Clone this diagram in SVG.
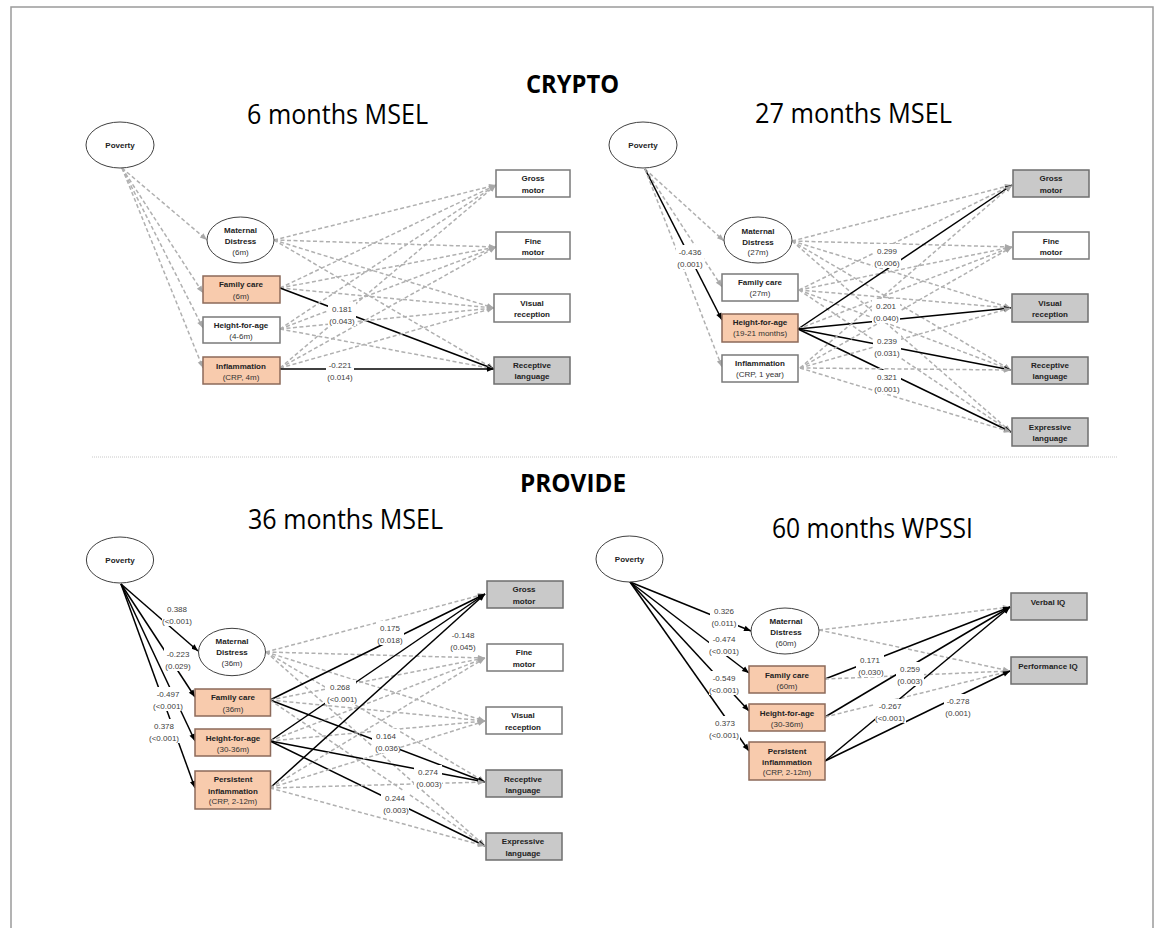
<svg xmlns="http://www.w3.org/2000/svg" width="1155" height="928" viewBox="0 0 1155 928">
<defs>
<marker id="ab" viewBox="0 0 10 10" refX="10" refY="5" markerWidth="8" markerHeight="7" orient="auto" markerUnits="userSpaceOnUse"><path d="M0,1 L10,5 L0,9 z" fill="#000"/></marker>
<marker id="ag" viewBox="0 0 10 10" refX="10" refY="5" markerWidth="8" markerHeight="7" orient="auto" markerUnits="userSpaceOnUse"><path d="M0,1 L10,5 L0,9 z" fill="#a8a8a8"/></marker>
<style>
.d{stroke:#b0b0b0;stroke-width:1.5;stroke-dasharray:4 2.5;fill:none;marker-end:url(#ag)}
.s{stroke:#000;stroke-width:1.5;fill:none;marker-end:url(#ab)}
.el{fill:#fff;stroke:#404040;stroke-width:1}
.bw{fill:#fff;stroke:#7a7a7a;stroke-width:1.5}
.bo{fill:#f8cbad;stroke:#8c6a5a;stroke-width:1.5}
.bg{fill:#c9c9c9;stroke:#6e6e6e;stroke-width:1.5}
text{font-family:"Liberation Sans",Arial,sans-serif;text-anchor:middle}
.nb{font-size:8px;font-weight:bold;fill:#222}
.nr{font-size:8px;fill:#333}
.lb{font-size:8px;fill:#404040}
.lbg{fill:#fff}
.t1{font-family:"Open Sans","Liberation Sans",sans-serif;font-size:25px;font-weight:bold;fill:#000}
.t2{font-family:"Open Sans","Liberation Sans",sans-serif;font-size:27px;fill:#000}
</style>
</defs>
<rect x="11" y="7" width="1142" height="940" fill="none" stroke="#9a9a9a" stroke-width="1.5"/>
<line x1="92" y1="457" x2="1118" y2="457" stroke="#c8c8c8" stroke-width="1" stroke-dasharray="1 1"/>
<g id="titles">
<text class="t1" x="572.5" y="93" textLength="93" lengthAdjust="spacingAndGlyphs">CRYPTO</text>
<text class="t2" x="337.5" y="124" textLength="181" lengthAdjust="spacingAndGlyphs">6 months MSEL</text>
<text class="t2" x="853.5" y="123" textLength="197" lengthAdjust="spacingAndGlyphs">27 months MSEL</text>
<text class="t1" x="573" y="492" textLength="106" lengthAdjust="spacingAndGlyphs">PROVIDE</text>
<text class="t2" x="345.5" y="529" textLength="195" lengthAdjust="spacingAndGlyphs">36 months MSEL</text>
<text class="t2" x="872.5" y="538" textLength="201" lengthAdjust="spacingAndGlyphs">60 months WPSSI</text>
</g>
<g id="connectors">
<!-- panel 1 -->
<line class="d" x1="122" y1="168" x2="207" y2="240"/>
<line class="d" x1="122" y1="168" x2="203" y2="293"/>
<line class="d" x1="122" y1="168" x2="203" y2="328"/>
<line class="d" x1="122" y1="168" x2="203" y2="368"/>
<line class="d" x1="274" y1="240" x2="496" y2="185"/>
<line class="d" x1="274" y1="240" x2="496" y2="247"/>
<line class="d" x1="274" y1="240" x2="494" y2="308"/>
<line class="d" x1="274" y1="240" x2="494" y2="369"/>
<line class="d" x1="280" y1="288" x2="496" y2="185"/>
<line class="d" x1="280" y1="288" x2="496" y2="247"/>
<line class="d" x1="280" y1="288" x2="494" y2="308"/>
<line class="s" x1="280" y1="288" x2="494" y2="369"/>
<line class="d" x1="280" y1="329" x2="496" y2="185"/>
<line class="d" x1="280" y1="329" x2="496" y2="247"/>
<line class="d" x1="280" y1="329" x2="494" y2="308"/>
<line class="d" x1="280" y1="329" x2="494" y2="369"/>
<line class="d" x1="280" y1="368" x2="496" y2="185"/>
<line class="d" x1="280" y1="368" x2="496" y2="247"/>
<line class="d" x1="280" y1="368" x2="494" y2="308"/>
<line class="s" x1="280" y1="369" x2="494" y2="369"/>
<!-- panel 2 -->
<line class="d" x1="645" y1="169" x2="724" y2="241"/>
<line class="d" x1="645" y1="169" x2="722" y2="287"/>
<line class="s" x1="645" y1="169" x2="722" y2="320"/>
<line class="d" x1="645" y1="169" x2="722" y2="367"/>
<line class="d" x1="792" y1="241" x2="1012" y2="185"/>
<line class="d" x1="792" y1="241" x2="1012" y2="247"/>
<line class="d" x1="792" y1="241" x2="1011" y2="308"/>
<line class="d" x1="792" y1="241" x2="1011" y2="370"/>
<line class="d" x1="792" y1="241" x2="1011" y2="432"/>
<line class="d" x1="799" y1="290" x2="1012" y2="185"/>
<line class="d" x1="799" y1="290" x2="1012" y2="247"/>
<line class="d" x1="799" y1="290" x2="1011" y2="308"/>
<line class="d" x1="799" y1="290" x2="1011" y2="370"/>
<line class="d" x1="799" y1="290" x2="1011" y2="432"/>
<line class="s" x1="798" y1="329" x2="1012" y2="185"/>
<line class="d" x1="798" y1="329" x2="1012" y2="247"/>
<line class="s" x1="798" y1="329" x2="1011" y2="308"/>
<line class="s" x1="798" y1="329" x2="1011" y2="370"/>
<line class="s" x1="798" y1="329" x2="1011" y2="432"/>
<line class="d" x1="800" y1="368" x2="1012" y2="185"/>
<line class="d" x1="800" y1="368" x2="1012" y2="247"/>
<line class="d" x1="800" y1="368" x2="1011" y2="308"/>
<line class="d" x1="800" y1="368" x2="1011" y2="370"/>
<line class="d" x1="800" y1="368" x2="1011" y2="432"/>
<!-- panel 3 -->
<line class="s" x1="121" y1="584" x2="198" y2="651"/>
<line class="s" x1="121" y1="584" x2="195" y2="697"/>
<line class="s" x1="121" y1="584" x2="195" y2="741"/>
<line class="s" x1="121" y1="584" x2="195" y2="788"/>
<line class="d" x1="266" y1="652" x2="485" y2="594"/>
<line class="d" x1="266" y1="652" x2="485" y2="658"/>
<line class="d" x1="266" y1="652" x2="485" y2="721"/>
<line class="d" x1="266" y1="652" x2="485" y2="782"/>
<line class="d" x1="266" y1="652" x2="485" y2="846"/>
<line class="s" x1="270" y1="700" x2="485" y2="594"/>
<line class="d" x1="270" y1="700" x2="485" y2="658"/>
<line class="d" x1="270" y1="700" x2="485" y2="721"/>
<line class="s" x1="270" y1="700" x2="485" y2="782"/>
<line class="d" x1="270" y1="700" x2="485" y2="846"/>
<line class="s" x1="270" y1="741" x2="485" y2="594"/>
<line class="d" x1="270" y1="741" x2="485" y2="658"/>
<line class="d" x1="270" y1="741" x2="485" y2="721"/>
<line class="s" x1="270" y1="741" x2="485" y2="782"/>
<line class="s" x1="270" y1="741" x2="485" y2="846"/>
<line class="s" x1="270" y1="788" x2="485" y2="594"/>
<line class="d" x1="270" y1="788" x2="485" y2="658"/>
<line class="d" x1="270" y1="788" x2="485" y2="721"/>
<line class="d" x1="270" y1="788" x2="485" y2="782"/>
<line class="d" x1="270" y1="788" x2="485" y2="846"/>
<!-- panel 4 -->
<line class="s" x1="630" y1="582" x2="751" y2="631"/>
<line class="s" x1="630" y1="582" x2="749" y2="673"/>
<line class="s" x1="630" y1="582" x2="749" y2="711"/>
<line class="s" x1="630" y1="582" x2="749" y2="751"/>
<line class="d" x1="819" y1="630" x2="1010" y2="607"/>
<line class="d" x1="819" y1="630" x2="1010" y2="671"/>
<line class="s" x1="825" y1="679" x2="1010" y2="607"/>
<line class="d" x1="825" y1="679" x2="1010" y2="671"/>
<line class="s" x1="825" y1="717" x2="1010" y2="607"/>
<line class="d" x1="825" y1="717" x2="1010" y2="671"/>
<line class="s" x1="825" y1="761" x2="1010" y2="607"/>
<line class="s" x1="825" y1="761" x2="1010" y2="671"/>
</g>
<g id="edge-labels">
<rect class="lbg" x="328" y="302" width="28" height="24"/><text class="lb" x="342" y="312">0.181<tspan x="342" dy="11.5">(0.043)</tspan></text>
<rect class="lbg" x="326" y="358" width="28" height="24"/><text class="lb" x="340" y="368">-0.221<tspan x="340" dy="11.5">(0.014)</tspan></text>
<rect class="lbg" x="676" y="245" width="28" height="24"/><text class="lb" x="690" y="255">-0.436<tspan x="690" dy="11.5">(0.001)</tspan></text>
<rect class="lbg" x="873" y="244" width="28" height="24"/><text class="lb" x="887" y="254">0.299<tspan x="887" dy="11.5">(0.006)</tspan></text>
<rect class="lbg" x="872" y="299" width="28" height="24"/><text class="lb" x="886" y="309">0.201<tspan x="886" dy="11.5">(0.040)</tspan></text>
<rect class="lbg" x="873" y="334" width="28" height="24"/><text class="lb" x="887" y="344">0.239<tspan x="887" dy="11.5">(0.031)</tspan></text>
<rect class="lbg" x="873" y="370" width="28" height="24"/><text class="lb" x="887" y="380">0.321<tspan x="887" dy="11.5">(0.001)</tspan></text>
<rect class="lbg" x="162" y="602" width="31" height="24"/><text class="lb" x="177" y="612">0.388<tspan x="177" dy="11.5">(&lt;0.001)</tspan></text>
<rect class="lbg" x="164" y="647" width="28" height="24"/><text class="lb" x="178" y="657">-0.223<tspan x="178" dy="11.5">(0.029)</tspan></text>
<rect class="lbg" x="153" y="687" width="31" height="24"/><text class="lb" x="168" y="697">-0.497<tspan x="168" dy="11.5">(&lt;0.001)</tspan></text>
<rect class="lbg" x="149" y="719" width="31" height="24"/><text class="lb" x="164" y="729">0.378<tspan x="164" dy="11.5">(&lt;0.001)</tspan></text>
<rect class="lbg" x="376" y="621" width="28" height="24"/><text class="lb" x="390" y="631">0.175<tspan x="390" dy="11.5">(0.018)</tspan></text>
<rect class="lbg" x="449" y="628" width="28" height="24"/><text class="lb" x="463" y="638">-0.148<tspan x="463" dy="11.5">(0.045)</tspan></text>
<rect class="lbg" x="325" y="680" width="31" height="24"/><text class="lb" x="340" y="690">0.268<tspan x="342" dy="11.5">(&lt;0.001)</tspan></text>
<rect class="lbg" x="372" y="729" width="28" height="24"/><text class="lb" x="386" y="739">0.164<tspan x="388" dy="11.5">(0.036)</tspan></text>
<rect class="lbg" x="414" y="765" width="28" height="24"/><text class="lb" x="428" y="775">0.274<tspan x="429" dy="11.5">(0.003)</tspan></text>
<rect class="lbg" x="381" y="791" width="28" height="24"/><text class="lb" x="395" y="801">0.244<tspan x="396" dy="11.5">(0.003)</tspan></text>
<rect class="lbg" x="710" y="604" width="28" height="24"/><text class="lb" x="724" y="614">0.326<tspan x="724" dy="11.5">(0.011)</tspan></text>
<rect class="lbg" x="709" y="632" width="31" height="24"/><text class="lb" x="724" y="642">-0.474<tspan x="724" dy="11.5">(&lt;0.001)</tspan></text>
<rect class="lbg" x="709" y="671" width="31" height="24"/><text class="lb" x="724" y="681">-0.549<tspan x="724" dy="11.5">(&lt;0.001)</tspan></text>
<rect class="lbg" x="709" y="716" width="31" height="24"/><text class="lb" x="725" y="726">0.373<tspan x="724" dy="11.5">(&lt;0.001)</tspan></text>
<rect class="lbg" x="856" y="653" width="28" height="24"/><text class="lb" x="870" y="663">0.171<tspan x="871" dy="11.5">(0.030)</tspan></text>
<rect class="lbg" x="896" y="662" width="28" height="24"/><text class="lb" x="910" y="672">0.259<tspan x="910" dy="11.5">(0.003)</tspan></text>
<rect class="lbg" x="875" y="699" width="31" height="24"/><text class="lb" x="890" y="709">-0.267<tspan x="890" dy="11.5">(&lt;0.001)</tspan></text>
<rect class="lbg" x="944" y="694" width="28" height="24"/><text class="lb" x="958" y="704">-0.278<tspan x="958" dy="11.5">(0.001)</tspan></text>
</g>
<!-- panel 1 nodes -->
<g id="p1-poverty"><ellipse class="el" cx="120" cy="145" rx="34" ry="23"/><text class="nb" x="120" y="148">Poverty</text></g>
<g id="p1-maternal"><ellipse class="el" cx="240.5" cy="240" rx="33.5" ry="23"/><text class="nb" x="240.5" y="233">Maternal</text><text class="nb" x="240.5" y="244">Distress</text><text class="nr" x="240.5" y="255">(6m)</text></g>
<g id="p1-family"><rect class="bo" x="203" y="276" width="77" height="27"/><text class="nb" x="241" y="287">Family care</text><text class="nr" x="241" y="299">(6m)</text></g>
<g id="p1-height"><rect class="bw" x="203" y="317" width="77" height="26"/><text class="nb" x="241" y="328">Height-for-age</text><text class="nr" x="241" y="339">(4-6m)</text></g>
<g id="p1-inflam"><rect class="bo" x="203" y="357" width="77" height="27"/><text class="nb" x="241" y="369">Inflammation</text><text class="nr" x="241" y="380">(CRP, 4m)</text></g>
<g id="p1-gross"><rect class="bw" x="496" y="170" width="74" height="27"/><text class="nb" x="533" y="181">Gross</text><text class="nb" x="533" y="193">motor</text></g>
<g id="p1-fine"><rect class="bw" x="496" y="232" width="74" height="27"/><text class="nb" x="533" y="244">Fine</text><text class="nb" x="533" y="255">motor</text></g>
<g id="p1-visual"><rect class="bw" x="494" y="294" width="76" height="28"/><text class="nb" x="532" y="306">Visual</text><text class="nb" x="532" y="317">reception</text></g>
<g id="p1-receptive"><rect class="bg" x="494" y="357" width="76" height="27"/><text class="nb" x="532" y="368">Receptive</text><text class="nb" x="532" y="379">language</text></g>
<!-- panel 2 nodes -->
<g id="p2-poverty"><ellipse class="el" cx="643" cy="145" rx="34" ry="23"/><text class="nb" x="643" y="148">Poverty</text></g>
<g id="p2-maternal"><ellipse class="el" cx="758" cy="240" rx="34" ry="23"/><text class="nb" x="758" y="234">Maternal</text><text class="nb" x="758" y="245">Distress</text><text class="nr" x="758" y="255">(27m)</text></g>
<g id="p2-family"><rect class="bw" x="722" y="274" width="76" height="27"/><text class="nb" x="760" y="285">Family care</text><text class="nr" x="760" y="296">(27m)</text></g>
<g id="p2-height"><rect class="bo" x="722" y="314" width="76" height="28"/><text class="nb" x="760" y="325">Height-for-age</text><text class="nr" x="760" y="336">(19-21 months)</text></g>
<g id="p2-inflam"><rect class="bw" x="722" y="355" width="76" height="27"/><text class="nb" x="760" y="366">Inflammation</text><text class="nr" x="760" y="377">(CRP, 1 year)</text></g>
<g id="p2-gross"><rect class="bg" x="1013" y="170" width="76" height="27"/><text class="nb" x="1051" y="181">Gross</text><text class="nb" x="1051" y="193">motor</text></g>
<g id="p2-fine"><rect class="bw" x="1013" y="232" width="76" height="27"/><text class="nb" x="1051" y="244">Fine</text><text class="nb" x="1051" y="255">motor</text></g>
<g id="p2-visual"><rect class="bg" x="1012" y="294" width="76" height="28"/><text class="nb" x="1050" y="306">Visual</text><text class="nb" x="1050" y="317">reception</text></g>
<g id="p2-receptive"><rect class="bg" x="1012" y="357" width="76" height="27"/><text class="nb" x="1050" y="368">Receptive</text><text class="nb" x="1050" y="379">language</text></g>
<g id="p2-expressive"><rect class="bg" x="1012" y="418" width="76" height="28"/><text class="nb" x="1050" y="430">Expressive</text><text class="nb" x="1050" y="441">language</text></g>
<!-- panel 3 nodes -->
<g id="p3-poverty"><ellipse class="el" cx="120" cy="560" rx="33.6" ry="23"/><text class="nb" x="120" y="563">Poverty</text></g>
<g id="p3-maternal"><ellipse class="el" cx="232" cy="652" rx="33.5" ry="23.7"/><text class="nb" x="232" y="644">Maternal</text><text class="nb" x="232" y="655">Distress</text><text class="nr" x="232" y="666">(36m)</text></g>
<g id="p3-family"><rect class="bo" x="195" y="689" width="75.5" height="27"/><text class="nb" x="233" y="700">Family care</text><text class="nr" x="233" y="712">(36m)</text></g>
<g id="p3-height"><rect class="bo" x="195" y="729" width="75.5" height="27"/><text class="nb" x="233" y="741">Height-for-age</text><text class="nr" x="233" y="752">(30-36m)</text></g>
<g id="p3-inflam"><rect class="bo" x="195" y="771" width="75.5" height="38"/><text class="nb" x="233" y="782">Persistent</text><text class="nb" x="233" y="794">inflammation</text><text class="nr" x="233" y="804">(CRP, 2-12m)</text></g>
<g id="p3-gross"><rect class="bg" x="487" y="581" width="76" height="27"/><text class="nb" x="524" y="592">Gross</text><text class="nb" x="524" y="604">motor</text></g>
<g id="p3-fine"><rect class="bw" x="487" y="644" width="76" height="27"/><text class="nb" x="524" y="655">Fine</text><text class="nb" x="524" y="667">motor</text></g>
<g id="p3-visual"><rect class="bw" x="486" y="707" width="76" height="27"/><text class="nb" x="523" y="718">Visual</text><text class="nb" x="523" y="730">reception</text></g>
<g id="p3-receptive"><rect class="bg" x="486" y="770" width="76" height="27"/><text class="nb" x="523" y="782">Receptive</text><text class="nb" x="523" y="793">language</text></g>
<g id="p3-expressive"><rect class="bg" x="486" y="833" width="76" height="27"/><text class="nb" x="523" y="844">Expressive</text><text class="nb" x="523" y="856">language</text></g>
<!-- panel 4 nodes -->
<g id="p4-poverty"><ellipse class="el" cx="629.5" cy="559" rx="33.5" ry="23"/><text class="nb" x="629.5" y="562">Poverty</text></g>
<g id="p4-maternal"><ellipse class="el" cx="785" cy="631" rx="34" ry="23"/><text class="nb" x="786" y="624">Maternal</text><text class="nb" x="786" y="635">Distress</text><text class="nr" x="786" y="646">(60m)</text></g>
<g id="p4-family"><rect class="bo" x="749" y="666" width="76" height="27"/><text class="nb" x="787" y="678">Family care</text><text class="nr" x="787" y="689">(60m)</text></g>
<g id="p4-height"><rect class="bo" x="749" y="704" width="76" height="27"/><text class="nb" x="787" y="715.5">Height-for-age</text><text class="nr" x="787" y="727">(30-36m)</text></g>
<g id="p4-inflam"><rect class="bo" x="749" y="742" width="76" height="38"/><text class="nb" x="787" y="754">Persistent</text><text class="nb" x="787" y="765">inflammation</text><text class="nr" x="787" y="775">(CRP, 2-12m)</text></g>
<g id="p4-verbal"><rect class="bg" x="1011" y="593" width="76" height="27"/><text class="nb" x="1048" y="605">Verbal IQ</text></g>
<g id="p4-performance"><rect class="bg" x="1011" y="657" width="76" height="27"/><text class="nb" x="1048" y="669">Performance IQ</text></g>
</svg>
